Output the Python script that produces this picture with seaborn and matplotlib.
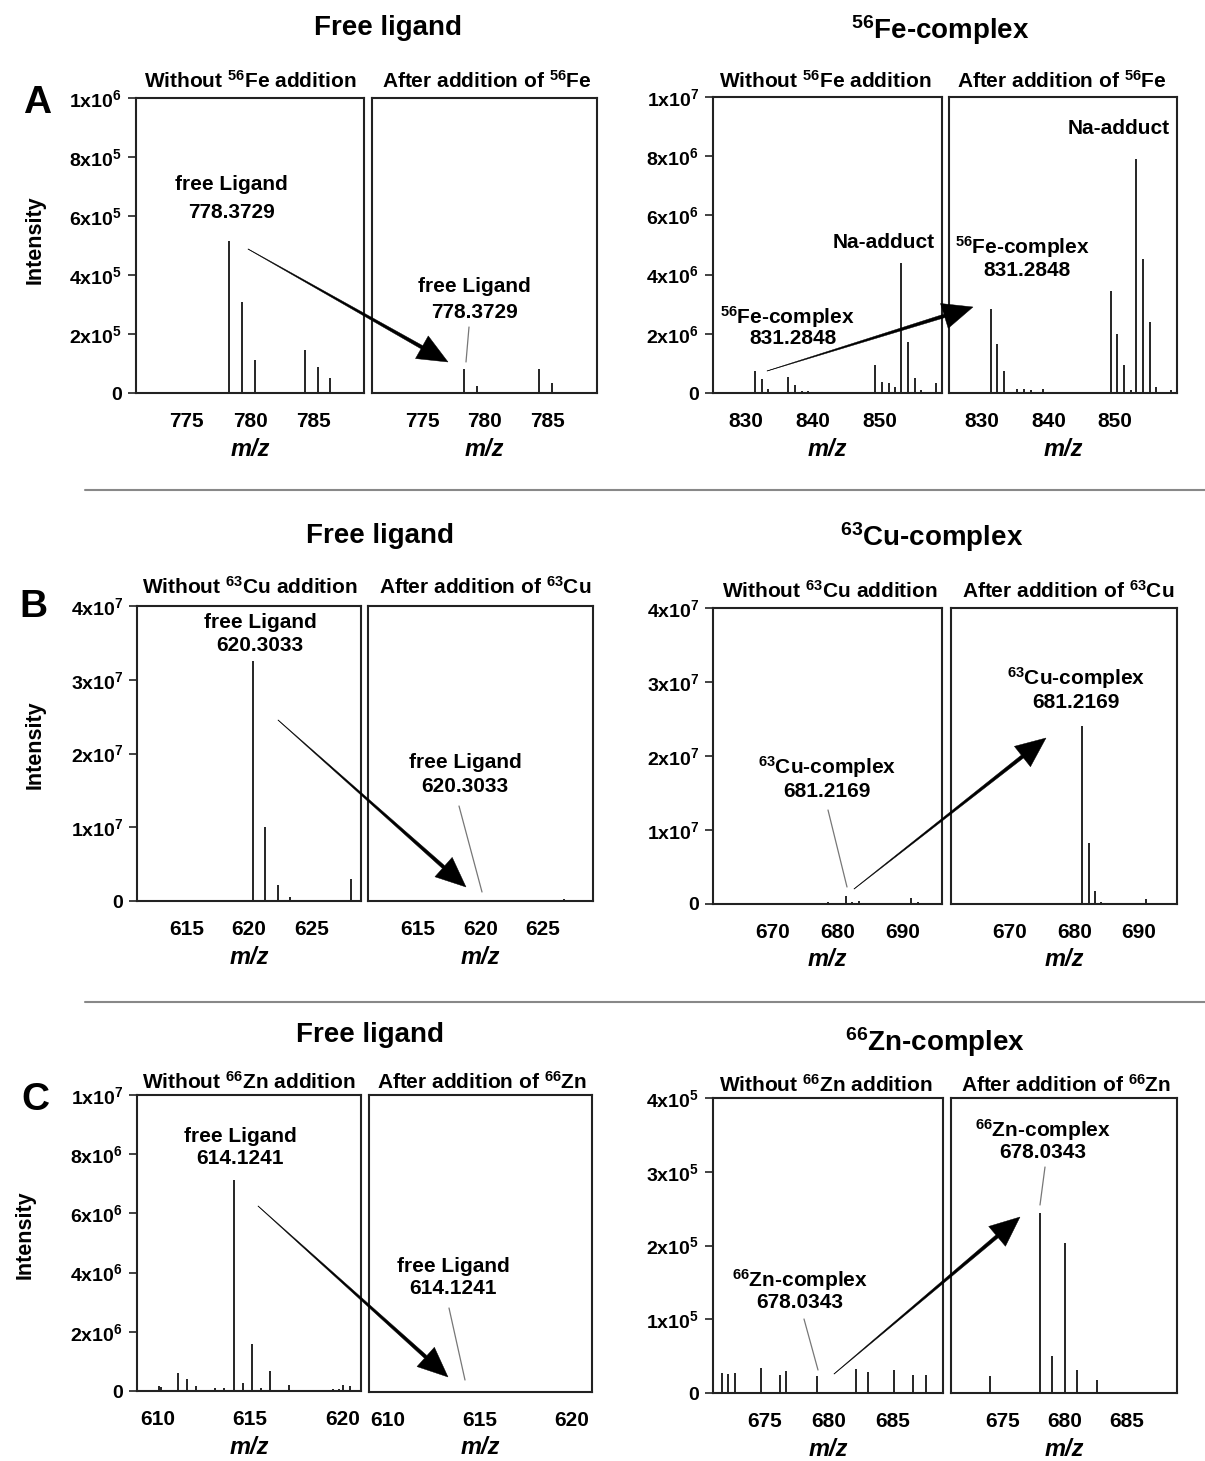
import numpy as np
import matplotlib
matplotlib.use('Agg')
import matplotlib.pyplot as plt
import seaborn as sns
from matplotlib.patches import Polygon
from matplotlib.lines import Line2D

sns.set_style('white')
plt.rcParams['font.family'] = ['Liberation Sans', 'DejaVu Sans']
plt.rcParams['font.weight'] = 'bold'
plt.rcParams['text.color'] = 'black'
plt.rcParams['xtick.color'] = 'black'
plt.rcParams['ytick.color'] = 'black'
plt.rcParams['mathtext.fontset'] = 'custom'
plt.rcParams['mathtext.rm'] = 'Liberation Sans:bold'
plt.rcParams['mathtext.bf'] = 'Liberation Sans:bold'
plt.rcParams['mathtext.it'] = 'Liberation Sans:bold:italic'
plt.rcParams['mathtext.default'] = 'rm'

# ---- data: peak m/z and intensity per spectrum ----
# row A: Fe
fe_lig_without_mz = [774.6, 778.37, 779.37, 780.37, 781.6, 784.37, 785.37, 786.35, 787.3]
fe_lig_without_int = [4e3, 5.15e5, 3.08e5, 1.12e5, 4e3, 1.46e5, 0.88e5, 0.51e5, 4e3]
fe_lig_with_mz = [778.37, 779.37, 784.37, 785.37]
fe_lig_with_int = [0.81e5, 0.25e5, 0.81e5, 0.34e5]
fe_cx_without_mz = [828.0, 831.28, 832.3, 833.3, 836.3, 837.3, 838.3, 839.3, 843.0,
                    847.0, 849.4, 850.4, 851.4, 852.4, 853.27, 854.27, 855.27, 856.3, 858.5]
fe_cx_without_int = [0.05e6, 0.74e6, 0.47e6, 0.13e6, 0.54e6, 0.27e6, 0.07e6, 0.07e6, 0.03e6,
                     0.05e6, 0.95e6, 0.37e6, 0.34e6, 0.2e6, 4.4e6, 1.73e6, 0.5e6, 0.1e6, 0.35e6]
fe_cx_with_mz = [831.28, 832.28, 833.28, 835.3, 836.3, 837.3, 839.2, 840.2, 849.4,
                 850.4, 851.4, 852.4, 853.27, 854.27, 855.27, 856.3, 858.5]
fe_cx_with_int = [2.84e6, 1.66e6, 0.74e6, 0.13e6, 0.13e6, 0.1e6, 0.13e6, 0.05e6, 3.44e6,
                  2.0e6, 0.95e6, 0.1e6, 7.9e6, 4.52e6, 2.39e6, 0.2e6, 0.1e6]

# row B: Cu
cu_lig_without_mz = [613.0, 616.5, 620.30, 621.30, 622.30, 623.30, 625.5, 628.2]
cu_lig_without_int = [0.02e7, 0.02e7, 3.25e7, 1.01e7, 0.22e7, 0.05e7, 0.02e7, 0.3e7]
cu_lig_with_mz = [614.5, 617.5, 620.30, 621.3, 626.7, 627.3, 627.9]
cu_lig_with_int = [0.01e7, 0.01e7, 0.02e7, 0.01e7, 0.03e7, 0.02e7, 0.02e7]
cu_cx_without_mz = [663.7, 666.5, 668.0, 676.2, 677.3, 678.5, 681.22, 682.22, 683.22,
                    684.2, 691.3, 692.3, 693.3]
cu_cx_without_int = [0.02e7, 0.02e7, 0.02e7, 0.02e7, 0.02e7, 0.03e7, 0.11e7, 0.03e7, 0.04e7,
                     0.01e7, 0.085e7, 0.03e7, 0.015e7]
cu_cx_with_mz = [665.0, 665.6, 667.1, 680.0, 681.22, 682.22, 683.22, 684.22, 691.2, 692.2, 693.2]
cu_cx_with_int = [0.02e7, 0.02e7, 0.01e7, 0.02e7, 2.4e7, 0.83e7, 0.17e7, 0.03e7, 0.07e7, 0.02e7, 0.02e7]

# row C: Zn
zn_lig_without_mz = [610.1, 610.2, 611.1, 611.6, 612.1, 613.1, 613.6, 614.12, 614.3, 614.6,
                     615.12, 615.6, 616.1, 617.1, 618.0, 618.5, 619.0, 619.5, 619.8, 620.05,
                     620.4, 620.7]
zn_lig_without_int = [0.17e6, 0.15e6, 0.6e6, 0.4e6, 0.17e6, 0.1e6, 0.1e6, 7.13e6, 0.05e6, 0.27e6,
                      1.59e6, 0.1e6, 0.68e6, 0.2e6, 0.03e6, 0.03e6, 0.03e6, 0.08e6, 0.08e6, 0.2e6,
                      0.17e6, 0.05e6]
zn_lig_with_mz = [614.12, 620.3]
zn_lig_with_int = [0.03e6, 0.02e6]
zn_cx_without_mz = [671.7, 672.2, 672.7, 674.7, 676.2, 676.7, 679.1, 682.1, 683.1, 685.1, 686.6, 687.6]
zn_cx_without_int = [0.27e5, 0.26e5, 0.27e5, 0.34e5, 0.24e5, 0.30e5, 0.23e5, 0.33e5, 0.28e5,
                     0.31e5, 0.24e5, 0.25e5]
zn_cx_with_mz = [674.0, 678.03, 679.0, 680.0, 681.0, 682.6]
zn_cx_with_int = [0.23e5, 2.44e5, 0.5e5, 2.04e5, 0.31e5, 0.18e5]

# axis ticks
fe_lig_xticks = [775, 780, 785]
fe_cx_xticks = [830, 840, 850]
cu_lig_xticks = [615, 620, 625]
cu_cx_xticks = [670, 680, 690]
zn_lig_xticks = [610, 615, 620]
zn_cx_xticks = [675, 680, 685]
fe_lig_yticks = [0, 2e5, 4e5, 6e5, 8e5, 1e6]
fe_cx_yticks = [0, 2e6, 4e6, 6e6, 8e6, 1e7]
cu_yticks = [0, 1e7, 2e7, 3e7, 4e7]
zn_lig_yticks = [0, 2e6, 4e6, 6e6, 8e6, 1e7]
zn_cx_yticks = [0, 1e5, 2e5, 3e5, 4e5]

W, H = 1205, 1461
fig = plt.figure(figsize=(W / 100, H / 100), dpi=100)
fig.patch.set_facecolor('white')


def fx(x):
    return x / W


def fy(y):
    return 1 - y / H


def sci(v):
    if v == 0:
        return '0'
    e = int(np.floor(np.log10(v) + 1e-9))
    m = int(round(v / 10 ** e))
    return f'{m}x10$^{{{e}}}$'


def panel(box, mz, inten, xlim, yticks, xticks, show_y):
    l, t, r, b = box
    ax = fig.add_axes([l / W, 1 - b / H, (r - l) / W, (b - t) / H])
    ax.vlines(mz, 0, inten, color='black', lw=1.2)
    ax.set_xlim(xlim)
    ax.set_ylim(0, yticks[-1])
    ax.set_xticks(xticks)
    ax.set_xticklabels([str(x) for x in xticks], fontsize=15, fontweight='bold')
    if show_y:
        ax.set_yticks(yticks)
        ax.set_yticklabels([sci(v) for v in yticks], fontsize=14, fontweight='bold')
    else:
        ax.set_yticks([])
    ax.tick_params(axis='x', direction='out', length=6, width=1.2, color='#222222', pad=8)
    ax.tick_params(axis='y', direction='out', length=6, width=1.2, color='#222222', pad=4,
                   left=show_y)
    for sp in ax.spines.values():
        sp.set_visible(True)
        sp.set_color('#222222')
        sp.set_linewidth(1.5)
    ax.set_facecolor('white')
    fig.text(fx((l + r) / 2), fy(b + 56), 'm/z', ha='center', va='center',
             fontsize=17, fontweight='bold', style='italic')
    return ax


def label(x, y, s, size=15):
    fig.text(fx(x), fy(y), s, ha='center', va='center', fontsize=size, fontweight='bold')


def leader(x0, y0, x1, y1):
    fig.lines.append(Line2D([fx(x0), fx(x1)], [fy(y0), fy(y1)], transform=fig.transFigure,
                            color='#777777', lw=0.9))


def taper_arrow(x0, y0, x1, y1, w0=0.4, w1=3.6, hl=30, hw=26):
    p0 = np.array([x0, y0], float)
    p1 = np.array([x1, y1], float)
    d = p1 - p0
    u = d / np.hypot(*d)
    n = np.array([-u[1], u[0]])
    base = p1 - u * hl
    pts = [p0 + n * w0 / 2, base + n * w1 / 2, base + n * hw / 2, p1,
           base - n * hw / 2, base - n * w1 / 2, p0 - n * w0 / 2]
    pts = [(fx(px), fy(py)) for px, py in pts]
    fig.patches.append(Polygon(pts, closed=True, transform=fig.transFigure,
                               facecolor='black', edgecolor='black', lw=0.3))


# ===== Row A =====
panel((136, 98, 364, 393), fe_lig_without_mz, fe_lig_without_int, (771, 789), fe_lig_yticks, fe_lig_xticks, True)
panel((372, 98, 597, 393), fe_lig_with_mz, fe_lig_with_int, (771, 789), fe_lig_yticks, fe_lig_xticks, False)
panel((713, 97, 942, 393), fe_cx_without_mz, fe_cx_without_int, (825, 859.4), fe_cx_yticks, fe_cx_xticks, True)
panel((949, 97, 1177, 393), fe_cx_with_mz, fe_cx_with_int, (825, 859.4), fe_cx_yticks, fe_cx_xticks, False)

label(388, 28, 'Free ligand', 20)
label(940, 30, '$^{56}$Fe-complex', 20)
label(250, 81, 'Without $^{56}$Fe addition', 15)
label(487, 81, 'After addition of $^{56}$Fe', 15)
label(825, 81, 'Without $^{56}$Fe addition', 15)
label(1062, 81, 'After addition of $^{56}$Fe', 15)
label(37, 103, 'A', 28)
fig.text(fx(35), fy(240), 'Intensity', rotation=90, ha='center', va='center', fontsize=15.5, fontweight='bold')

label(231, 185, 'free Ligand')
label(231, 212, '778.3729')
label(474, 286, 'free Ligand')
label(474, 313, '778.3729')
leader(469, 327, 466, 362)
taper_arrow(248, 249, 448, 362)

label(884, 242, 'Na-adduct')
label(787, 317, '$^{56}$Fe-complex')
label(793, 339, '831.2848')
label(1022, 247, '$^{56}$Fe-complex')
label(1027, 270, '831.2848')
label(1119, 129, 'Na-adduct')
taper_arrow(767, 371, 973, 307, w0=0.3)

fig.lines.append(Line2D([fx(85), 1], [fy(490)] * 2, transform=fig.transFigure, color='#888888', lw=1.5))

# ===== Row B =====
panel((137, 606, 361, 901), cu_lig_without_mz, cu_lig_without_int, (611, 629), cu_yticks, cu_lig_xticks, True)
panel((368, 606, 593, 901), cu_lig_with_mz, cu_lig_with_int, (611, 629), cu_yticks, cu_lig_xticks, False)
panel((713, 608, 942, 904), cu_cx_without_mz, cu_cx_without_int, (660.8, 696), cu_yticks, cu_cx_xticks, True)
panel((951, 608, 1177, 904), cu_cx_with_mz, cu_cx_with_int, (660.8, 696), cu_yticks, cu_cx_xticks, False)

label(380, 536, 'Free ligand', 20)
label(932, 537, '$^{63}$Cu-complex', 20)
label(250, 587, 'Without $^{63}$Cu addition', 15)
label(485, 587, 'After addition of $^{63}$Cu', 15)
label(830, 591, 'Without $^{63}$Cu addition', 15)
label(1068, 591, 'After addition of $^{63}$Cu', 15)
label(33, 607, 'B', 28)
fig.text(fx(35), fy(745), 'Intensity', rotation=90, ha='center', va='center', fontsize=15.5, fontweight='bold')

label(260, 623, 'free Ligand')
label(260, 646, '620.3033')
label(465, 763, 'free Ligand')
label(465, 787, '620.3033')
leader(459, 806, 482, 892)
taper_arrow(278, 720, 466, 887)

label(827, 767, '$^{63}$Cu-complex')
label(827, 791, '681.2169')
leader(828, 810, 847, 887)
label(1076, 678, '$^{63}$Cu-complex')
label(1076, 702, '681.2169')
taper_arrow(854, 889, 1046, 738)

fig.lines.append(Line2D([fx(85), 1], [fy(1002)] * 2, transform=fig.transFigure, color='#888888', lw=1.5))

# ===== Row C =====
panel((137, 1095, 361, 1391), zn_lig_without_mz, zn_lig_without_int, (608.9, 621), zn_lig_yticks, zn_lig_xticks, True)
panel((369, 1095, 592, 1392), zn_lig_with_mz, zn_lig_with_int, (609, 621.1), zn_lig_yticks, zn_lig_xticks, False)
panel((713, 1098, 943, 1393), zn_cx_without_mz, zn_cx_without_int, (671, 688.9), zn_cx_yticks, zn_cx_xticks, True)
panel((951, 1098, 1177, 1393), zn_cx_with_mz, zn_cx_with_int, (670.9, 689), zn_cx_yticks, zn_cx_xticks, False)

label(370, 1035, 'Free ligand', 20)
label(935, 1042, '$^{66}$Zn-complex', 20)
label(249, 1082, 'Without $^{66}$Zn addition', 15)
label(482, 1082, 'After addition of $^{66}$Zn', 15)
label(826, 1085, 'Without $^{66}$Zn addition', 15)
label(1066, 1085, 'After addition of $^{66}$Zn', 15)
label(35, 1100, 'C', 28)
fig.text(fx(25), fy(1235), 'Intensity', rotation=90, ha='center', va='center', fontsize=15.5, fontweight='bold')

label(240, 1137, 'free Ligand')
label(240, 1159, '614.1241')
label(453, 1267, 'free Ligand')
label(453, 1289, '614.1241')
leader(449, 1308, 465, 1380)
taper_arrow(258, 1206, 448, 1377)

label(800, 1280, '$^{66}$Zn-complex')
label(800, 1303, '678.0343')
leader(804, 1319, 818, 1370)
label(1043, 1130, '$^{66}$Zn-complex')
label(1043, 1152, '678.0343')
leader(1045, 1167, 1040, 1205)
taper_arrow(834, 1374, 1020, 1217)

fig.savefig('out.png', dpi=100, facecolor='white')
